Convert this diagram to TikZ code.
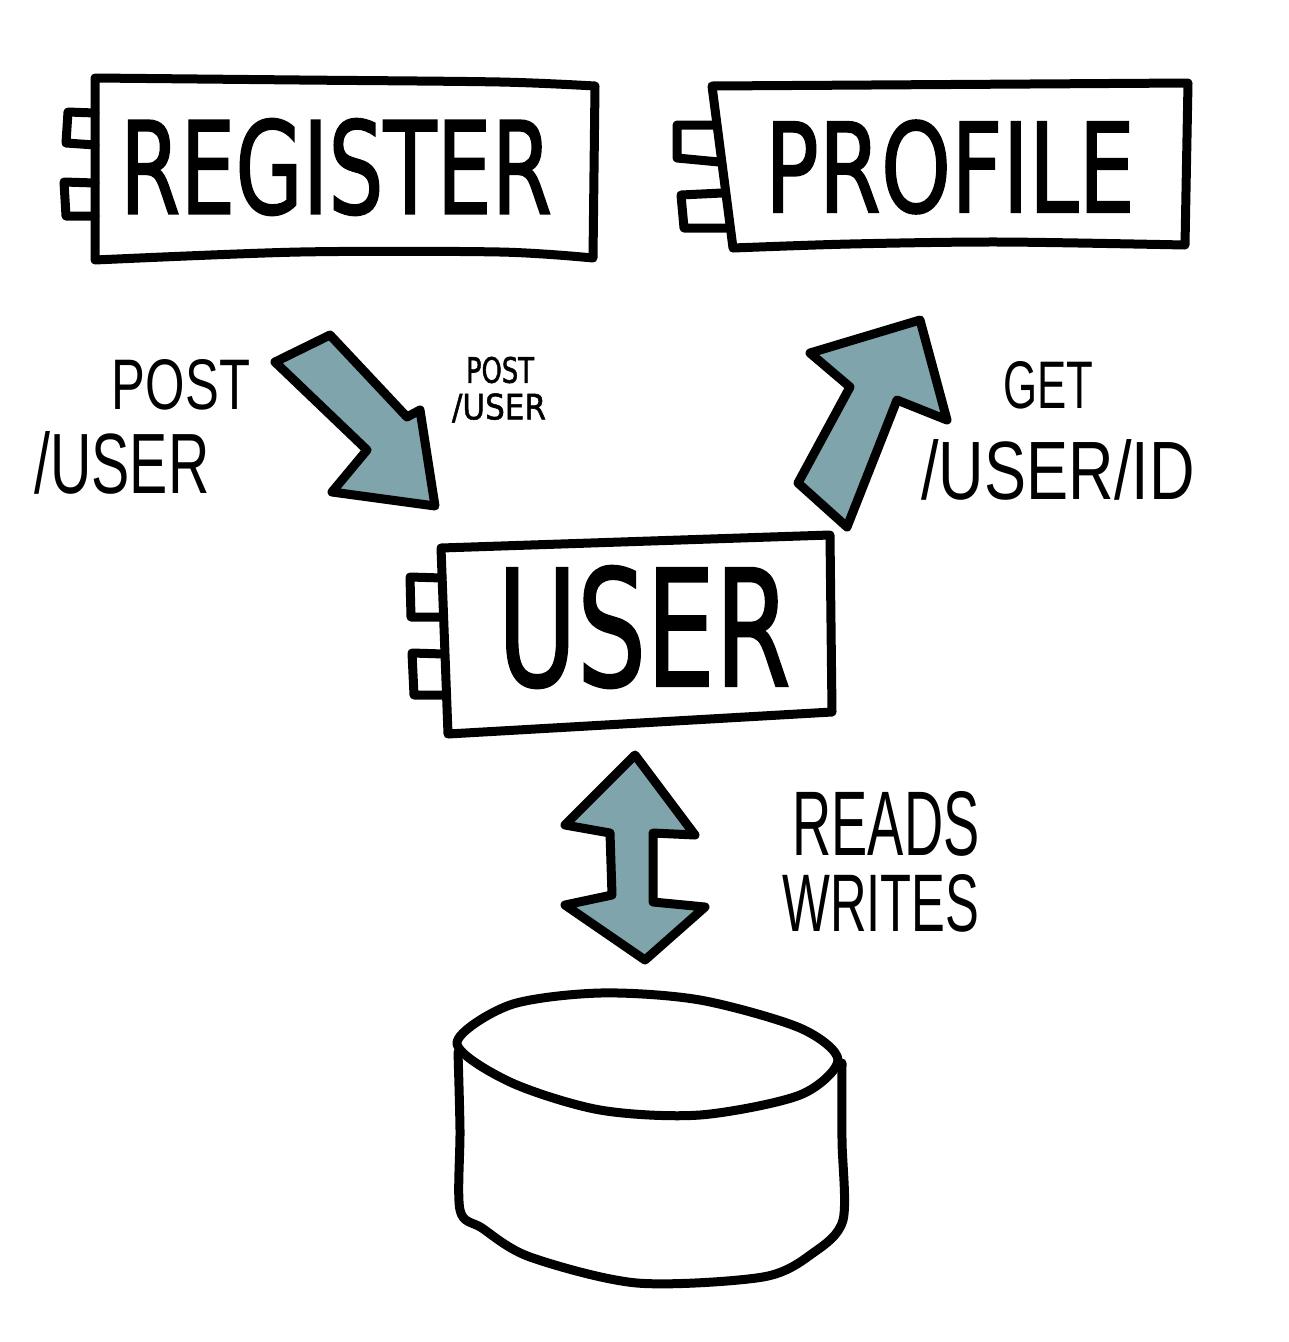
\documentclass[tikz,border=0pt]{standalone}
\usepackage{fontspec}
\setmainfont{DejaVu Sans}
\newfontfamily\titlefont{DejaVu Sans}[FakeBold=1.5]
\newfontfamily\lblfont{Liberation Sans}
\definecolor{arrowfill}{RGB}{127,164,171}
\tikzset{
  sketch/.style={line width=9pt, line join=round, line cap=round, black},
  blockarrow/.style={sketch, fill=arrowfill},
  title/.style={inner sep=0pt, font=\titlefont},
  lbl/.style={inner sep=0pt, font=\lblfont},
}
\begin{document}
\begin{tikzpicture}[x=1pt,y=-1pt]
\useasboundingbox (0,0) rectangle (1289,1342);

% ---------- REGISTER component ----------
\draw[sketch] plot[smooth] coordinates {(95,78) (300,80) (500,82) (595,86)}
  -- plot[smooth] coordinates {(593,258) (500,252) (300,252) (95,260)} -- cycle;
\draw[sketch] (95,113) -- (68,112) -- (66,143) -- (95,145);
\draw[sketch] (95,183) -- (64,182) -- (66,216) -- (95,216);
\node[title] (register) at (336,167) {\resizebox{432pt}{95pt}{REGISTER}};

% ---------- PROFILE component ----------
\draw[sketch] (712,86) -- (1188,83) -- (1185,245)
  -- plot[smooth] coordinates {(1185,245) (1000,242) (850,244) (733,248)} -- cycle;
\draw[sketch] (716,125) -- (677,125) -- (677,158) -- (719,162);
\draw[sketch] (722,193) -- (681,195) -- (684,228) -- (726,228);
\node[title] (profile) at (950,167) {\resizebox{370pt}{92pt}{PROFILE}};

% ---------- USER component ----------
\draw[sketch] (441,548) -- (830,535) -- (832,712) -- (448,734) -- cycle;
\draw[sketch] (442,578) -- (410,577) -- (411,617) -- (443,617);
\draw[sketch] (444,654) -- (412,653) -- (414,695) -- (446,695);
\node[title] (user) at (644,627) {\resizebox{293pt}{120pt}{USER}};

% ---------- block arrows ----------
\draw[blockarrow] (275,362) -- (330,335) -- (407,417) -- (420,410) -- (435,506)
  -- (332,492) -- (367,450) -- cycle;
\draw[blockarrow] (798,483) -- (850,387) -- (810,353) -- (920,320) -- (947,420)
  -- (897,400) -- (847,527) -- cycle;
\draw[blockarrow] (635,755) -- (695,835) -- (653,833) -- (653,902) -- (705,907)
  -- (645,960) -- (565,905) -- (612,895) -- (610,833) -- (565,825) -- cycle;

% ---------- database cylinder ----------
\draw[sketch] plot[smooth] coordinates {(458,1052) (460,1130) (460,1210) (482,1228)
  (530,1257) (637,1283) (763,1277) (813,1253) (843,1220) (842,1140) (842,1063)};
\draw[sketch, fill=white] plot[smooth cycle] coordinates {(457,1043) (510,1005) (600,993)
  (700,1000) (800,1028) (838,1060) (800,1095) (700,1115) (600,1110) (510,1082)};

% ---------- labels ----------
\node[lbl] (postA) at (181,385) {\resizebox{138pt}{50pt}{POST}};
\node[lbl] (userA) at (122,463) {\resizebox{175pt}{62pt}{/USER}};
\node[title] (postB) at (500,370) {\resizebox{68pt}{26pt}{POST}};
\node[title] (userB) at (499,408) {\resizebox{94pt}{26pt}{/USER}};
\node[lbl] (get) at (1048,385) {\resizebox{90pt}{47pt}{GET}};
\node[lbl] (userid) at (1058,470) {\resizebox{273pt}{60pt}{/USER/ID}};
\node[lbl] (reads) at (886,824) {\resizebox{187pt}{64pt}{READS}};
\node[lbl] (writes) at (881,903) {\resizebox{197pt}{57pt}{WRITES}};
\end{tikzpicture}
\end{document}
